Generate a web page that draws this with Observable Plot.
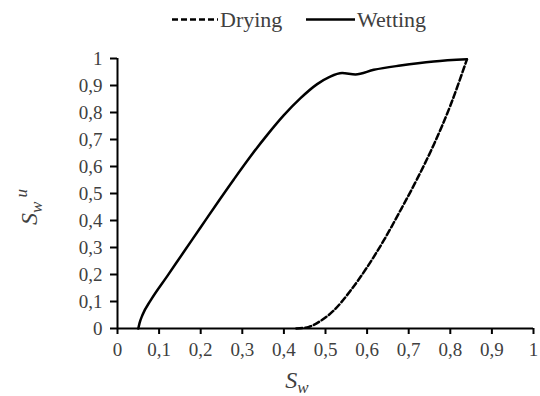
<!DOCTYPE html>
<html>
<head>
<meta charset="utf-8">
<script src="https://cdn.jsdelivr.net/npm/d3@7"></script>
<script src="https://cdn.jsdelivr.net/npm/@observablehq/plot@0.6"></script>
<style>
  html, body { margin: 0; padding: 0; background: #fff; font-family: 'Times New Roman', Times, serif; }
  #legend { position: relative; height: 40px; width: 540px; font-size: 22px; color: #404040; font-family: 'Times New Roman', Times, serif; }
  #legend .item { position: absolute; top: 0; height: 40px; display: flex; align-items: center; }
  #legend svg { display: block; }
  svg text { font-family: 'Times New Roman', Times, serif !important; }
</style>
</head>
<body>
<div id="legend"></div>
<div id="chart"></div>
<script>
// Data
const seriesNames = ["Drying", "Wetting"];
const wettingX = [0.05, 0.053, 0.06, 0.08, 0.12, 0.16, 0.20, 0.24, 0.28, 0.32, 0.36, 0.40, 0.44, 0.48, 0.51, 0.54, 0.572, 0.616, 0.68, 0.76, 0.84];
const wettingY = [0, 0.02, 0.05, 0.105, 0.195, 0.285, 0.375, 0.465, 0.553, 0.638, 0.717, 0.790, 0.853, 0.905, 0.932, 0.946, 0.941, 0.958, 0.974, 0.989, 0.997];
const dryingX = [0.43, 0.46, 0.49, 0.52, 0.56, 0.60, 0.64, 0.68, 0.72, 0.76, 0.80, 0.84];
const dryingY = [0, 0.006, 0.03, 0.067, 0.14, 0.227, 0.326, 0.437, 0.553, 0.680, 0.825, 0.997];
const tickValues = [0, 0.1, 0.2, 0.3, 0.4, 0.5, 0.6, 0.7, 0.8, 0.9, 1];

const wetting = wettingX.map((x, i) => ({x, y: wettingY[i]}));
const drying = dryingX.map((x, i) => ({x, y: dryingY[i]}));
const fmt = d => String(+d.toFixed(1)).replace(".", ",");
const FONT = "'Times New Roman', Times, serif";

// Legend (HTML above the SVG)
const legend = document.getElementById("legend");
legend.innerHTML = `
  <div class="item" style="left:172px">
    <svg width="46" height="40"><line x1="0" x2="46" y1="19.5" y2="19.5" stroke="#000" stroke-width="2.5" stroke-dasharray="6,3"/></svg>
    <span style="margin-left:2px">${seriesNames[0]}</span>
  </div>
  <div class="item" style="left:306px">
    <svg width="49" height="40"><line x1="0" x2="49" y1="19.5" y2="19.5" stroke="#000" stroke-width="2.5"/></svg>
    <span style="margin-left:2px">${seriesNames[1]}</span>
  </div>`;

const chart = Plot.plot({
  width: 540,
  height: 356,
  marginLeft: 117,
  marginRight: 7,
  marginTop: 18,
  marginBottom: 68,
  style: { fontFamily: FONT, fontSize: "19px", background: "#fff", overflow: "visible" },
  x: { domain: [0, 1] },
  y: { domain: [0, 1] },
  marks: [
    Plot.axisX({ ticks: tickValues, tickFormat: fmt, tickSize: 6, tickPadding: 8, stroke: "#000", strokeWidth: 2, fill: "#404040", label: null }),
    Plot.axisY({ ticks: tickValues, tickFormat: fmt, tickSize: 7, tickPadding: 8, stroke: "#000", strokeWidth: 2, fill: "#404040", label: null }),
    Plot.ruleY([0], { stroke: "#000", strokeWidth: 2 }),
    Plot.ruleX([0], { stroke: "#000", strokeWidth: 2 }),
    Plot.line(drying, { x: "x", y: "y", stroke: "#000", strokeWidth: 2.5, strokeDasharray: "6,3", curve: "monotone-x" }),
    Plot.line(wetting, { x: "x", y: "y", stroke: "#000", strokeWidth: 2.5, curve: "monotone-x" })
  ]
});
document.getElementById("chart").appendChild(chart);

// Axis titles with subscripts / superscripts
const svg = d3.select(chart);
const xt = svg.append("text")
  .attr("x", 297).attr("y", 348)
  .attr("font-style", "italic")
  .attr("font-size", 24)
  .attr("fill", "#404040");
xt.append("tspan").text("S");
xt.append("tspan").attr("dy", 5).attr("font-size", 17).text("w");

const yt = svg.append("text")
  .attr("transform", "translate(37,167) rotate(-90)")
  .attr("font-style", "italic")
  .attr("font-size", 24)
  .attr("fill", "#404040");
yt.append("tspan").text("S");
yt.append("tspan").attr("dy", 5).attr("font-size", 17).text("w");
yt.append("tspan").attr("dx", 4).attr("dy", -15).attr("font-size", 17).text("u");
</script>
</body>
</html>
